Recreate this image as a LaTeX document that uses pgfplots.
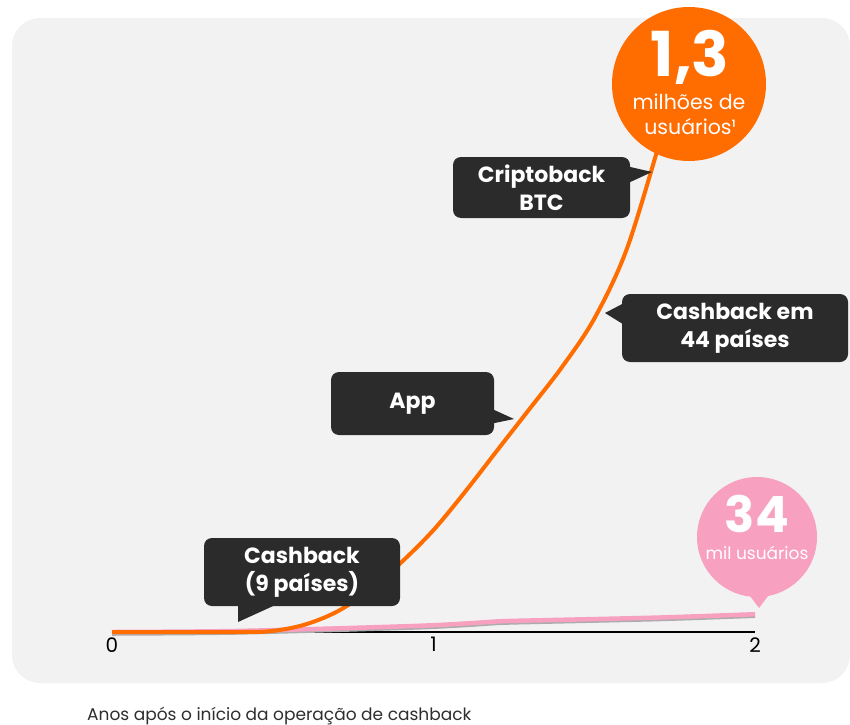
\documentclass[border=0pt]{standalone}
\usepackage{pgfplots}
\pgfplotsset{compat=1.18}
\usepackage{fontspec}
\setmainfont{Poppins}
\definecolor{bgpanel}{HTML}{F2F2F2}
\definecolor{orng}{HTML}{FF6C00}
\definecolor{pnk}{HTML}{F8A0C0}
\definecolor{boxc}{HTML}{2B2B2B}
\definecolor{txtc}{HTML}{2E2E2E}
\begin{document}
\begin{tikzpicture}
\begin{scope}[x=1bp,y=-1bp]
\path[use as bounding box] (0,0) rectangle (850,724);
\fill[bgpanel, rounded corners=28bp] (12,18) rectangle (850,683);
\end{scope}
\begin{axis}[
  at={(112bp,-632bp)}, anchor=south west,
  x=321.5bp, y=0.3708bp,
  xmin=0, xmax=2, ymin=0, ymax=1400,
  clip=false,
  axis y line=none,
  axis x line*=bottom,
  x axis line style={black, line width=1.2bp},
  xtick={0,1,2},
  major tick length=0pt,
  ytick=\empty,
  /pgf/number format/assume math mode=true,
  xticklabel style={font=\fontsize{20bp}{22bp}\selectfont, text=black, yshift=-2bp},
]
% pink series (thousand users)
\addplot[gray!65, line width=4.5bp, smooth, yshift=-1.5bp] coordinates {
(0,0) (0.4,3) (0.93,16) (1.1,23) (1.21,29) (1.35,32) (1.7,39) (2.0,48)};
\addplot[pnk, line width=4.5bp, smooth] coordinates {
(0,0) (0.4,3) (0.93,16) (1.1,23) (1.21,29) (1.35,32) (1.7,39) (2.0,48)};
% orange series (thousand users)
\addplot[orng, line width=4bp, smooth, tension=0.55] coordinates {
(0,0) (0.4,0) (0.5,3) (0.6,20) (0.7,55) (0.8,112) (0.9,188) (1.0,275)
(1.1,380) (1.2,492) (1.3,603) (1.4,715) (1.5,845) (1.6,1030) (1.7,1310) (1.72,1370)};
\end{axis}
\begin{scope}[x=1bp,y=-1bp]
% orange circle
\fill[orng] (689,84) circle (77bp);
\node[white, inner sep=0pt, text depth=0pt, font=\bfseries\fontsize{62bp}{62bp}\selectfont, anchor=base] at (690,77) {1,3};
\node[white, inner sep=0pt, font=\fontsize{20.5bp}{24bp}\selectfont, anchor=base] at (689,110) {milhões de};
\node[white, inner sep=0pt, font=\fontsize{20.5bp}{24bp}\selectfont, anchor=base] at (690,135) {usuários¹};
% pink circle
\fill[pnk] (757,537) circle (60bp);
\fill[pnk] (744,588) -- (759,608) -- (774,588) -- cycle;
\node[white, inner sep=0pt, text depth=0pt, font=\bfseries\fontsize{50bp}{50bp}\selectfont, anchor=base] at (757,532) {34};
\node[white, inner sep=0pt, font=\fontsize{17bp}{20bp}\selectfont, anchor=base] at (757,559) {mil usuários};
% Criptoback BTC
\fill[boxc, rounded corners=8bp] (453,157) rectangle (630,218);
\fill[boxc] (626,166) -- (652,172) -- (626,184) -- cycle;
\node[white, font=\bfseries\fontsize{22bp}{28bp}\selectfont, align=center] at (541.5,188) {Criptoback\\BTC};
% Cashback em 44 paises
\fill[boxc, rounded corners=8bp] (622,294) rectangle (848,362);
\fill[boxc] (626,302) -- (605,313) -- (626,326) -- cycle;
\node[white, font=\bfseries\fontsize{22bp}{28bp}\selectfont, align=center] at (735,328) {Cashback em\\44 países};
% App
\fill[boxc, rounded corners=8bp] (331,372) rectangle (494,435);
\fill[boxc] (490,408) -- (514,419) -- (490,424) -- cycle;
\node[white, font=\bfseries\fontsize{22bp}{28bp}\selectfont] at (412.5,404) {App};
% Cashback (9 paises)
\fill[boxc, rounded corners=8bp] (204,538) rectangle (400,606);
\fill[boxc] (238,602) -- (238,622) -- (282,602) -- cycle;
\node[white, font=\bfseries\fontsize{22bp}{28bp}\selectfont, align=center] at (302,572) {Cashback\\(9 países)};
% x label
\node[txtc, font=\fontsize{17bp}{22bp}\selectfont, anchor=base west, inner sep=0pt] at (87,720) {Anos após o início da operação de cashback};
\end{scope}
\end{tikzpicture}
\end{document}
